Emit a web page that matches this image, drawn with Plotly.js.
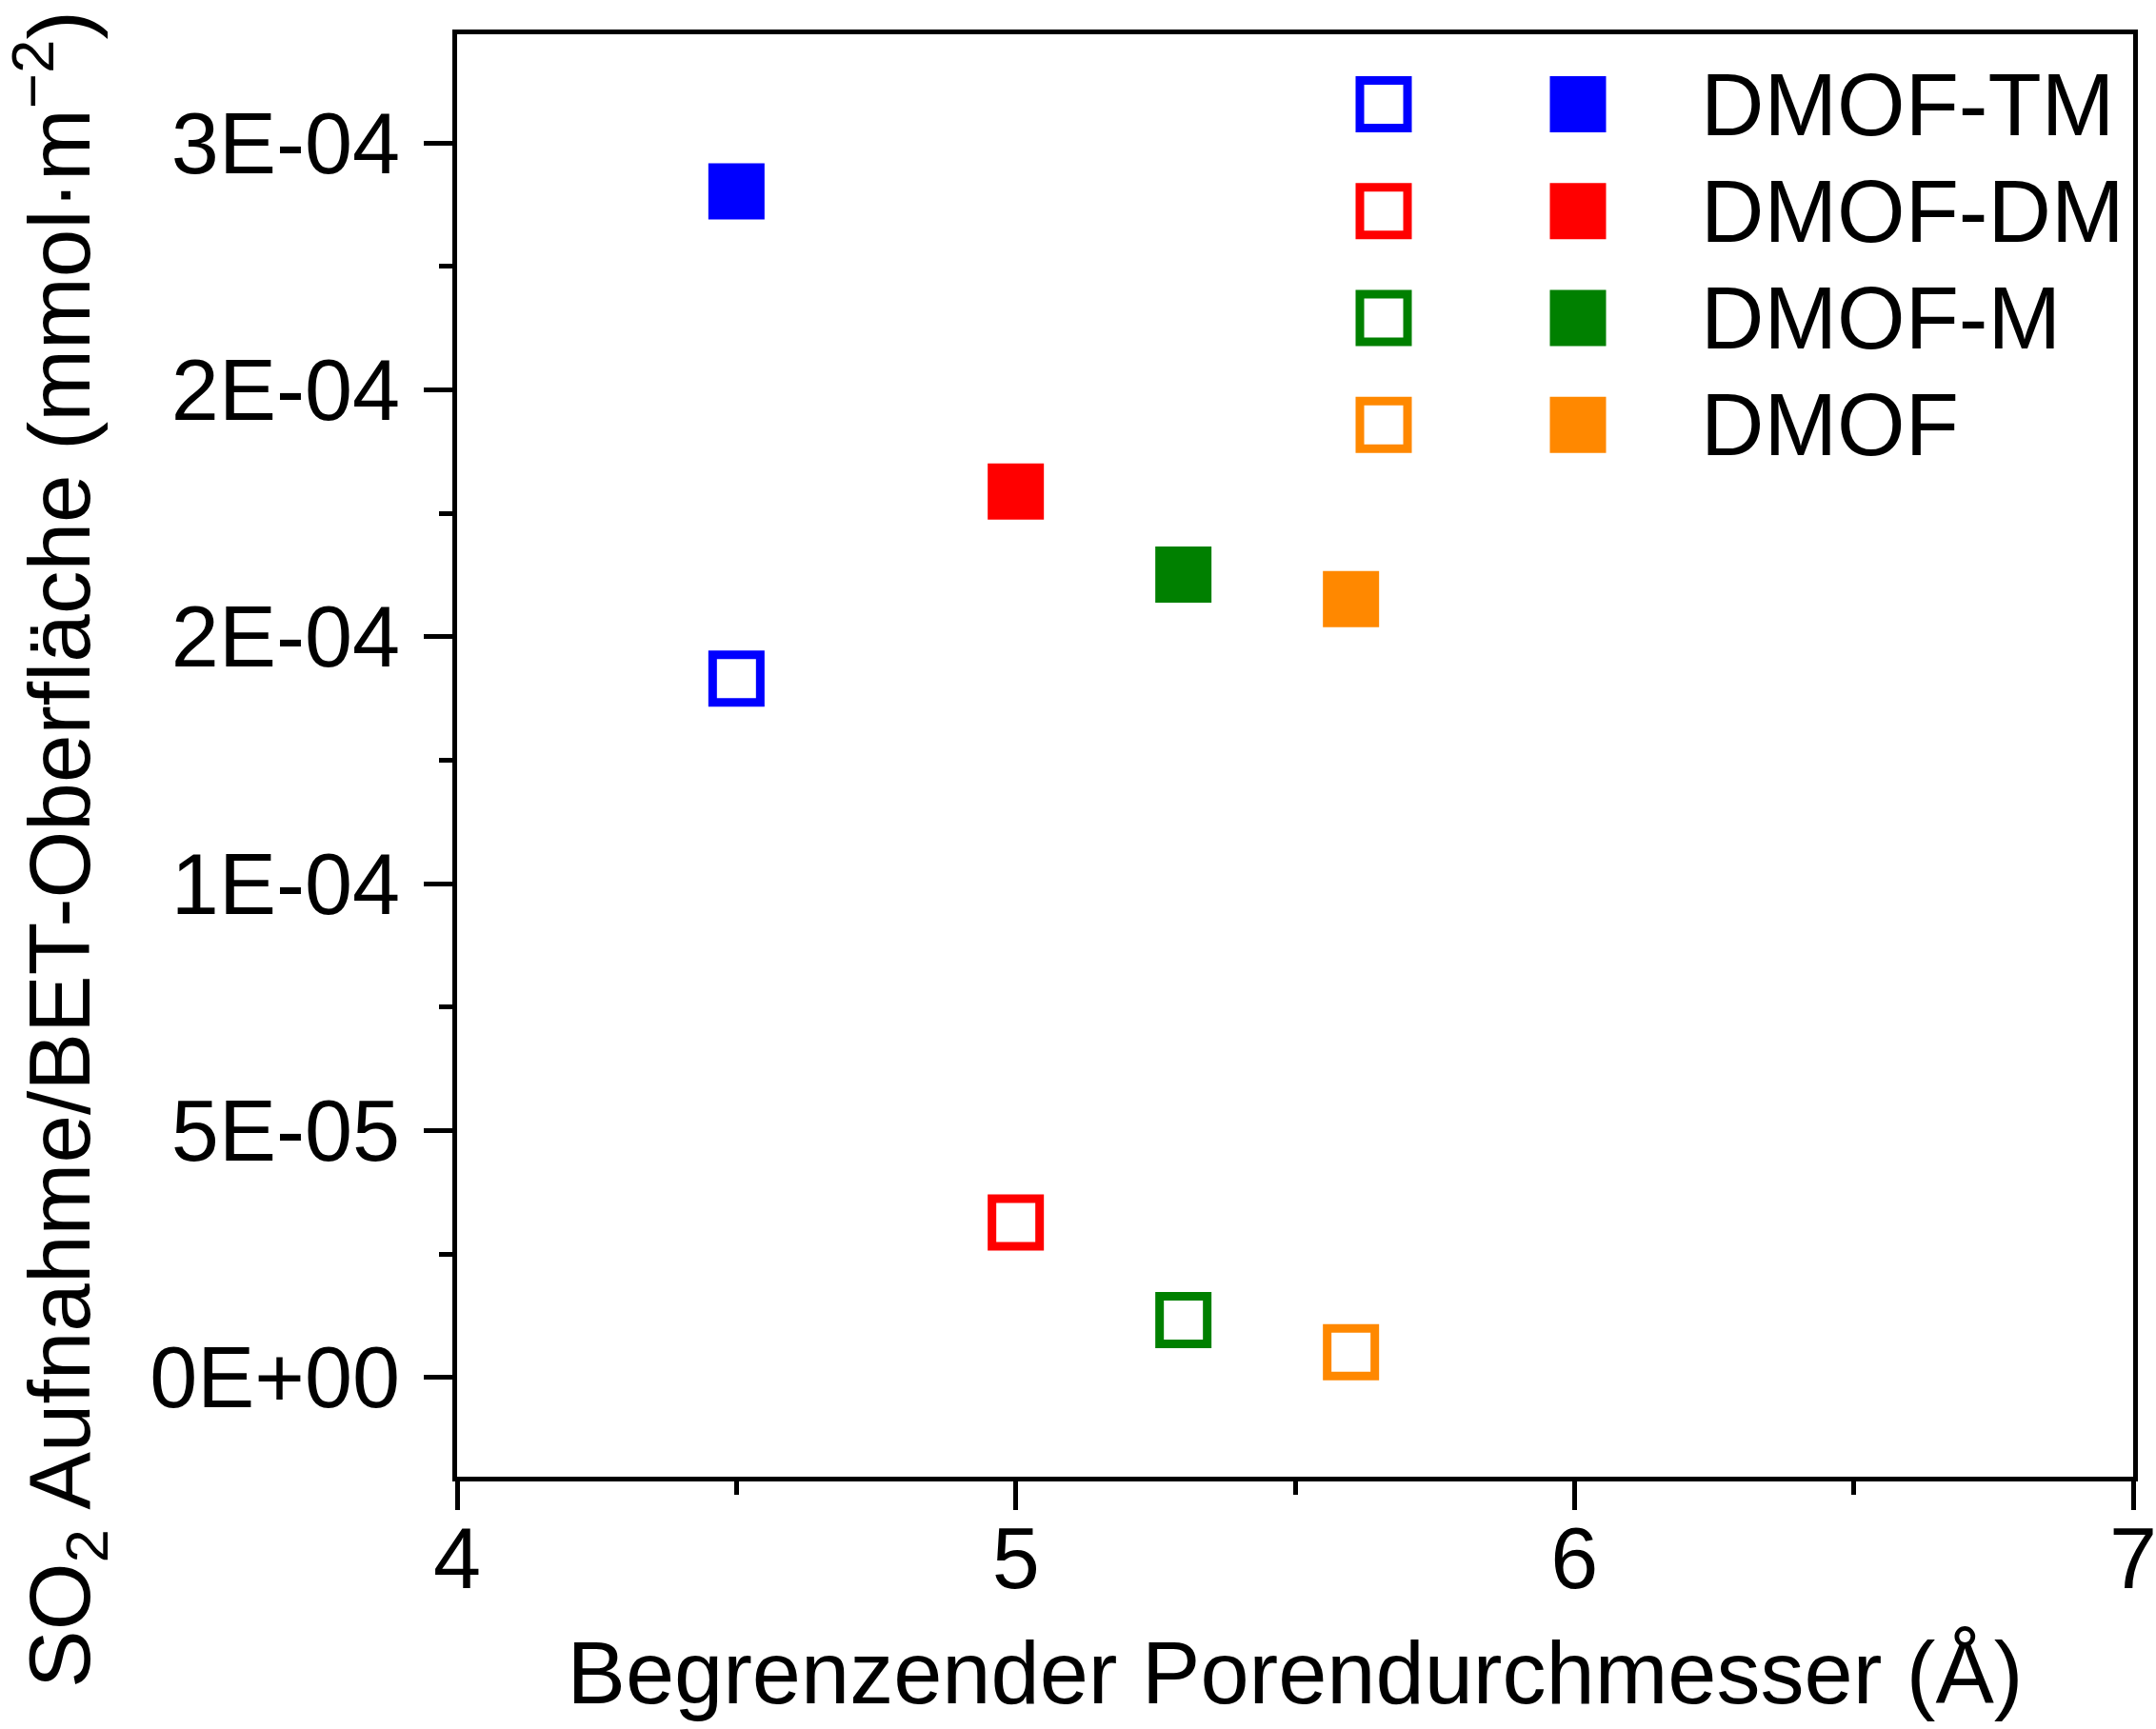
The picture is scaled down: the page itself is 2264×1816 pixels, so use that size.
<!DOCTYPE html>
<html>
<head>
<meta charset="utf-8">
<script src="https://cdn.plot.ly/plotly-3.0.1.min.js"></script>
<style>html,body{margin:0;padding:0;background:#fff;}#chart{width:2264px;height:1816px;}</style>
</head>
<body>
<div id="chart"></div>
<script>
// ---- data ----
const samples = ['DMOF-TM', 'DMOF-DM', 'DMOF-M', 'DMOF'];
const poreDiameter = [4.5, 5.0, 5.3, 5.6];
const uptakeOpen = [1.415e-4, 3.14e-5, 1.16e-5, 5.1e-6];
const uptakeFilled = [2.402e-4, 1.794e-4, 1.626e-4, 1.576e-4];
const sampleColors = ['#0000FF', '#FF0000', '#008000', '#FF8800'];
const yTickVals = [0, 5e-5, 1e-4, 1.5e-4, 2e-4, 2.5e-4];
const yTickText = ['0E+00', '5E-05', '1E-04', '2E-04', '2E-04', '3E-04'];
const yMinorVals = [2.5e-5, 7.5e-5, 1.25e-4, 1.75e-4, 2.25e-4];
const xTickVals = [4, 5, 6, 7];
const xTickText = ['4', '5', '6', '7'];
const xMinorVals = [4.5, 5.5, 6.5];

// ---- layout constants ----
const W = 2264, H = 1816;
const M = {l: 480, r: 24, t: 36, b: 265};
const PW = W - M.l - M.r, PH = H - M.t - M.b;
const px2x = p => (p - M.l) / PW;
const px2y = p => (H - M.b - p) / PH;
const FONT = 'Liberation Sans, Arial, Helvetica, sans-serif';

const traces = [];
samples.forEach((s, i) => {
  traces.push({
    type: 'scatter', mode: 'markers', name: s + ' (open)',
    x: [poreDiameter[i]], y: [uptakeOpen[i]],
    marker: {symbol: 'square-open', size: 50, color: sampleColors[i], line: {width: 9, color: sampleColors[i]}},
    showlegend: false, hoverinfo: 'x+y'
  });
  traces.push({
    type: 'scatter', mode: 'markers', name: s,
    x: [poreDiameter[i]], y: [uptakeFilled[i]],
    marker: {symbol: 'square', size: 59, color: sampleColors[i], line: {width: 0}},
    showlegend: false, hoverinfo: 'x+y'
  });
});

// legend built from shapes + annotations
const legOpenX = 1453, legFillX = 1657, legTextX = 1784;
const legRowY0 = 109.6, legRowDY = 112.2;
const shapes = [];
const annotations = [];
samples.forEach((s, i) => {
  const cy = legRowY0 + i * legRowDY;
  shapes.push({
    type: 'rect', xref: 'paper', yref: 'paper', xsizemode: 'pixel', ysizemode: 'pixel',
    xanchor: px2x(legOpenX), yanchor: px2y(cy),
    x0: -25, x1: 25, y0: -25, y1: 25,
    line: {color: sampleColors[i], width: 9}, fillcolor: 'rgba(0,0,0,0)'
  });
  shapes.push({
    type: 'rect', xref: 'paper', yref: 'paper', xsizemode: 'pixel', ysizemode: 'pixel',
    xanchor: px2x(legFillX), yanchor: px2y(cy),
    x0: -29.5, x1: 29.5, y0: -29.5, y1: 29.5,
    line: {width: 0}, fillcolor: sampleColors[i]
  });
  annotations.push({
    xref: 'paper', yref: 'paper', x: px2x(legTextX), y: px2y(cy),
    xanchor: 'left', yanchor: 'middle', showarrow: false,
    text: s, font: {family: FONT, size: 92, color: '#000'}
  });
});
// y-axis title as annotation (positioned like the original, longer than the plot)
annotations.push({
  xref: 'paper', yref: 'paper', x: px2x(62), y: px2y(892),
  xanchor: 'center', yanchor: 'middle', showarrow: false, textangle: -90,
  text: 'SO<sub>2</sub> Aufnahme/BET-Oberfläche (mmol·m<sup>−2</sup>)',
  font: {family: FONT, size: 91, color: '#000'}
});

const axisCommon = {
  showline: true, linewidth: 5, linecolor: '#000', mirror: true,
  ticks: 'outside', ticklen: 30, tickwidth: 5, tickcolor: '#000',
  showgrid: false, zeroline: false, tickmode: 'array',
  tickfont: {family: FONT, size: 90, color: '#000'}
};

const layout = {
  width: W, height: H,
  margin: M,
  paper_bgcolor: '#fff', plot_bgcolor: '#fff',
  font: {family: FONT, color: '#000'},
  showlegend: false,
  xaxis: Object.assign({}, axisCommon, {
    range: [4, 7], tickvals: xTickVals, ticktext: xTickText,
    ticklabeloverflow: 'allow', ticklabelstandoff: -26,
    minor: {tickmode: 'array', tickvals: xMinorVals, ticks: 'outside', ticklen: 14, tickwidth: 5, tickcolor: '#000'},
    title: {text: 'Begrenzender Porendurchmesser (Å)', font: {family: FONT, size: 92, color: '#000'}, standoff: 40}
  }),
  yaxis: Object.assign({}, axisCommon, {
    range: [-2.01e-5, 2.72e-4], tickvals: yTickVals, ticktext: yTickText,
    ticklabelstandoff: 7,
    minor: {tickmode: 'array', tickvals: yMinorVals, ticks: 'outside', ticklen: 14, tickwidth: 5, tickcolor: '#000'}
  }),
  shapes: shapes,
  annotations: annotations
};

Plotly.newPlot('chart', traces, layout, {displayModeBar: false, staticPlot: true});
</script>
</body>
</html>
